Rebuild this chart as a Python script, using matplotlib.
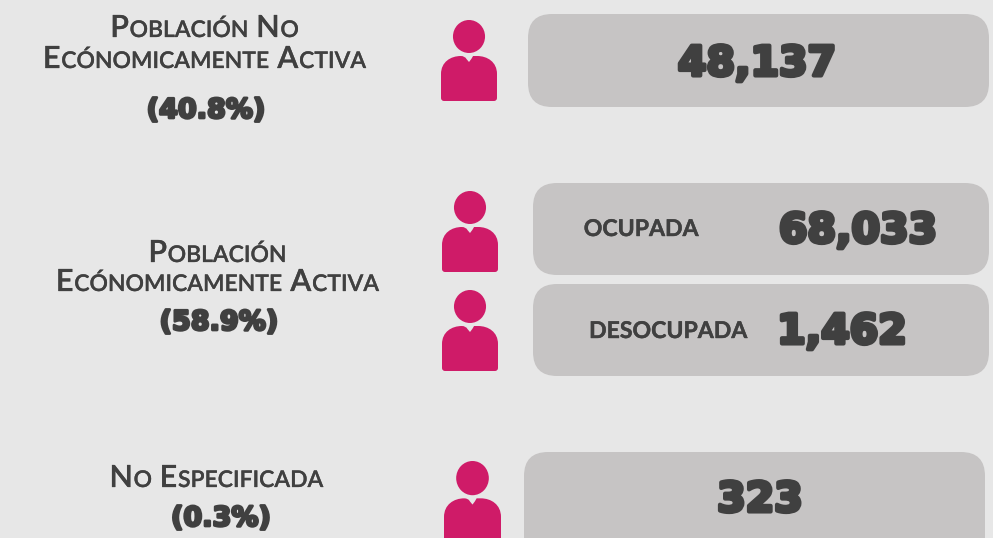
import matplotlib
matplotlib.use("Agg")
import matplotlib.pyplot as plt
from matplotlib.patches import FancyBboxPatch, Ellipse, PathPatch
from matplotlib.path import Path
import matplotlib.patheffects as pe

group_lines = [["Población No", "Ecónomicamente Activa"],
               ["Población", "Ecónomicamente Activa"],
               ["No Especificada"]]
group_shares = ["(40.8%)", "(58.9%)", "(0.3%)"]
total_value = ["48,137"]
active_labels = ["OCUPADA", "DESOCUPADA"]
active_values = ["68,033", "1,462"]
unspecified_value = ["323"]

BG, BOX, INK, PINK = "#E7E7E7", "#C6C4C4", "#404040", "#CF1B68"
fig = plt.figure(figsize=(9.93, 5.38), dpi=100, facecolor=BG)
ax = fig.add_axes([0, 0, 1, 1])
ax.set_xlim(0, 993)
ax.set_ylim(538, 0)
ax.axis("off")
R = fig.canvas.get_renderer()


def box(x0, y0, x1, y1, r=24):
    ax.add_patch(FancyBboxPatch((x0 + r, y0 + r), x1 - x0 - 2 * r, y1 - y0 - 2 * r,
                                boxstyle=f"round,pad={r},rounding_size={r}",
                                fc=BOX, ec="none", clip_on=True))


def person(cx, top, w=55, h=81):
    sx, sy = w / 55, h / 81
    ax.add_patch(Ellipse((cx, top + 16.5 * sy), 31.5 * sx, 33 * sy, fc=PINK, ec="none"))
    X = lambda d: cx + d * sx
    Y = lambda d: top + d * sy
    verts = [(X(-27.5), Y(78)), (X(-27.5), Y(54)),
             (X(-27.5), Y(42)), (X(-18), Y(36)), (X(-8), Y(36)),
             (X(-4), Y(36)), (X(-2.5), Y(39)), (X(0), Y(42)),
             (X(2.5), Y(39)), (X(4), Y(36)), (X(8), Y(36)),
             (X(18), Y(36)), (X(27.5), Y(42)), (X(27.5), Y(54)),
             (X(27.5), Y(78)),
             (X(27.5), Y(81)), (X(24.5), Y(81)),
             (X(-24.5), Y(81)),
             (X(-27.5), Y(81)), (X(-27.5), Y(78)), (X(-27.5), Y(78))]
    codes = [Path.MOVETO, Path.LINETO,
             Path.CURVE4, Path.CURVE4, Path.CURVE4,
             Path.CURVE3, Path.CURVE3, Path.LINETO,
             Path.CURVE3, Path.CURVE3, Path.LINETO,
             Path.CURVE4, Path.CURVE4, Path.CURVE4,
             Path.LINETO,
             Path.CURVE3, Path.CURVE3,
             Path.LINETO,
             Path.CURVE3, Path.CURVE3, Path.CLOSEPOLY]
    ax.add_patch(PathPatch(Path(verts, codes), fc=PINK, ec="none"))


def heavy(s, x, y, size):
    t = ax.text(x, y, s, ha="center", va="center_baseline", fontsize=size,
                fontweight="bold", family="DejaVu Sans", color=INK)
    t.set_path_effects([pe.withStroke(linewidth=size * 0.1, foreground=INK)])


def small_caps(s, cx, base, size, ratio=0.75):
    """Centred small-caps line, set run by run on a common baseline."""
    runs = []
    for ch in s:
        if ch == " ":
            runs.append([None, None])
            continue
        big = ch.isupper()
        if runs and runs[-1][1] == big:
            runs[-1][0] += ch.upper()
        else:
            runs.append([ch.upper(), big])
    items = []
    total = 0
    for txt, big in runs:
        if txt is None:
            w = size * 100 / 72 * 0.22
            items.append((None, w))
        else:
            t = ax.text(0, base, txt, fontsize=size if big else size * ratio,
                        family="Lato", fontweight="semibold", color=INK,
                        ha="left", va="baseline")
            t.set_path_effects([pe.withStroke(linewidth=0.2, foreground=INK)])
            w = t.get_window_extent(R).width + 0.8
            items.append((t, w))
        total += w
    x = cx - total / 2
    for t, w in items:
        if t is not None:
            t.set_x(x)
        x += w


box(528, 14, 989, 107)
box(533, 183, 989, 275)
box(533, 284, 989, 376)
box(524, 452, 985, 570)

person(469, 20, 56, 81)
person(470, 191, 56, 81)
person(470, 290, 56, 81)
person(472.5, 461, 57, 84)

centers = [205, 218, 217]
bases = [[37, 68], [262, 291], [487]]
share_pos = [(206, 108), (219, 320), (221, 516)]
for lines, cx, ys, share, pos in zip(group_lines, centers, bases, group_shares, share_pos):
    for ln, y in zip(lines, ys):
        small_caps(ln, cx, y, 22)
    heavy(share, pos[0], pos[1], 19.5)

heavy(total_value[0], 757, 60, 29.5)
for lab, lx, by, val, vx, vy in zip(active_labels, [641, 668], [236, 338],
                                    active_values, [858, 842], [227, 328]):
    t = ax.text(lx, by, lab, fontsize=16.6, family="Lato", fontweight="bold", color=INK,
                ha="center", va="baseline")
    t.set_path_effects([pe.withStroke(linewidth=0.3, foreground=INK)])
    heavy(val, vx, vy, 29.5)
heavy(unspecified_value[0], 760, 496, 29.5)

fig.savefig("out.png", dpi=100, facecolor=BG)
